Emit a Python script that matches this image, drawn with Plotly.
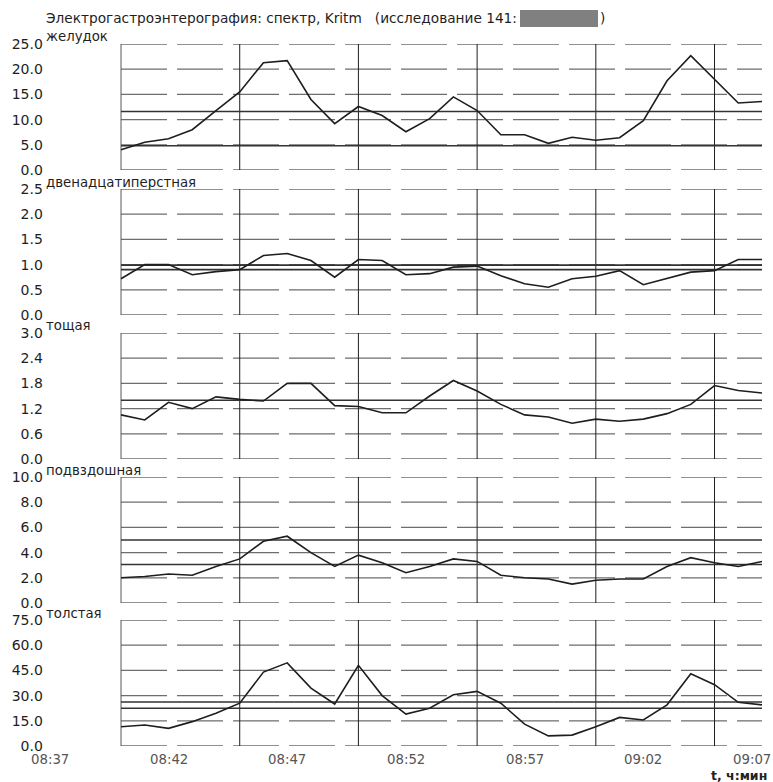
import plotly.graph_objects as go

W, H = 773, 782

# ---------------- data ----------------
times = ["08:40", "08:41", "08:42", "08:43", "08:44", "08:45", "08:46", "08:47",
         "08:48", "08:49", "08:50", "08:51", "08:52", "08:53", "08:54", "08:55",
         "08:56", "08:57", "08:58", "08:59", "09:00", "09:01", "09:02", "09:03",
         "09:04", "09:05", "09:06", "09:07"]

stomach = [4.0, 5.5, 6.2, 8.0, 11.8, 15.5, 21.3, 21.7, 14.0, 9.2, 12.6, 10.8, 7.6, 10.2,
           14.5, 11.8, 7.0, 7.0, 5.3, 6.5, 5.9, 6.4, 9.8, 17.7, 22.7, 18.0, 13.3, 13.6]
duodenum = [0.72, 1.0, 1.0, 0.8, 0.86, 0.9, 1.18, 1.22, 1.08, 0.75, 1.1, 1.08, 0.8, 0.82,
            0.95, 0.97, 0.78, 0.62, 0.55, 0.72, 0.77, 0.88, 0.6, 0.72, 0.85, 0.88, 1.1, 1.1]
jejunum = [1.05, 0.93, 1.35, 1.2, 1.48, 1.42, 1.38, 1.8, 1.8, 1.27, 1.25, 1.1, 1.1, 1.5,
           1.87, 1.62, 1.3, 1.05, 1.0, 0.85, 0.95, 0.9, 0.95, 1.08, 1.3, 1.75, 1.63, 1.57]
ileum = [2.0, 2.1, 2.3, 2.2, 2.9, 3.5, 4.9, 5.3, 4.0, 2.9, 3.8, 3.2, 2.4, 2.9,
         3.5, 3.3, 2.2, 2.0, 1.9, 1.5, 1.8, 1.9, 1.9, 2.9, 3.6, 3.2, 2.9, 3.3]
colon = [11.5, 12.5, 10.5, 14.5, 19.5, 25.5, 44.0, 49.5, 34.5, 25.0, 48.0, 30.0, 19.0, 22.5,
         30.5, 32.5, 25.5, 13.0, 6.0, 6.5, 11.5, 17.0, 15.5, 24.5, 43.0, 36.5, 26.0, 24.5]

# reference (norm) levels per section
stomach_ref = [11.6, 4.8]
duodenum_ref = [0.99, 0.90]
jejunum_ref = [1.40]
ileum_ref = [5.0, 3.05]
colon_ref = [26.2, 22.5]

names = ["желудок", "двенадцатиперстная", "тощая", "подвздошная", "толстая"]
series = [stomach, duodenum, jejunum, ileum, colon]
refs = [stomach_ref, duodenum_ref, jejunum_ref, ileum_ref, colon_ref]
y_max = [25.0, 2.5, 3.0, 10.0, 75.0]
y_step = [5.0, 0.5, 0.6, 2.0, 15.0]

x_tick_labels = ["08:37", "08:42", "08:47", "08:52", "08:57", "09:02", "09:07"]
v_lines = ["08:40", "08:45", "08:50", "08:55", "09:00", "09:05"]

title_text = "Электрогастроэнтерография: спектр, Kritm   (исследование 141: "
x_unit = "t, ч:мин"

# ---------------- layout geometry (pixels) ----------------
DAY = "2024-01-01 "
def T(s):
    return DAY + s + ":00"

x_left_px, x_right_px = 49.8, 762.0
panel_top = [44, 189, 333, 477, 620]
panel_h = 126

X = [T(t) for t in times]
x_start, x_end = T("08:37"), T("09:07")

FONT = "DejaVu Sans"
INK = "#1e1e1e"
GRID = "#6e6e6e"

fig = go.Figure()
shapes = []
annotations = []
layout = {}

for i in range(5):
    xn = "x" if i == 0 else f"x{i+1}"
    yn = "y" if i == 0 else f"y{i+1}"
    xk = "xaxis" if i == 0 else f"xaxis{i+1}"
    yk = "yaxis" if i == 0 else f"yaxis{i+1}"
    ymax = y_max[i]
    step = y_step[i]
    n = int(round(ymax / step))
    ticks = [round(k * step, 3) for k in range(n + 1)]

    # horizontal grid lines (dashed, like the scanned print)
    for tv in ticks:
        shapes.append(dict(type="line", xref=xn, yref=yn, x0=X[0], x1=X[-1], y0=tv, y1=tv,
                           line=dict(color=GRID, width=1.3, dash="46px,10px"), layer="below"))
    # vertical time lines
    for j, vt in enumerate(v_lines):
        shapes.append(dict(type="line", xref=xn, yref=yn, x0=T(vt), x1=T(vt), y0=0, y1=ymax,
                           line=dict(color="#555" if j == 0 else INK, width=1), layer="below"))

    # norm lines
    for rv in refs[i]:
        fig.add_trace(go.Scatter(x=[X[0], X[-1]], y=[rv, rv], mode="lines", xaxis=xn, yaxis=yn,
                                 line=dict(color="#333", width=1.6), hoverinfo="skip",
                                 showlegend=False))
    # spectrum curve
    fig.add_trace(go.Scatter(x=X, y=series[i], mode="lines", xaxis=xn, yaxis=yn,
                             line=dict(color=INK, width=1.6), name=names[i], showlegend=False))

    top = panel_top[i]
    bot = top + panel_h
    layout[xk] = dict(domain=[x_left_px / W, x_right_px / W], range=[x_start, x_end], type="date",
                      anchor=yn, showgrid=False, zeroline=False, showline=False,
                      showticklabels=False, ticks="", automargin=False)
    layout[yk] = dict(domain=[1 - bot / H, 1 - top / H], range=[0, ymax], tickvals=ticks,
                      tickformat=".1f", anchor=xn, showgrid=False, zeroline=False,
                      showline=False, ticks="", ticklabelstandoff=6, automargin=False,
                      tickfont=dict(family=FONT, size=14, color=INK))

    # section name
    annotations.append(dict(text=names[i], xref="paper", yref="paper", x=44 / W,
                            y=1 - (top - 7) / H, xanchor="left", yanchor="middle",
                            showarrow=False, font=dict(family=FONT, size=13.3, color=INK)))

# x tick labels for the bottom panel
for k, lab in enumerate(x_tick_labels):
    xa = "right" if k == len(x_tick_labels) - 1 else "center"
    annotations.append(dict(text=lab, xref="x5", yref="paper", x=T(lab), y=1 - 759 / H,
                            xanchor=xa, yanchor="middle", showarrow=False,
                            xshift=11 if xa == "right" else 0,
                            font=dict(family=FONT, size=13.3, color="#555")))

# axis unit
annotations.append(dict(text="<b>" + x_unit + "</b>", xref="paper", yref="paper", x=769 / W,
                        y=1 - 775 / H, xanchor="right", yanchor="middle", showarrow=False,
                        font=dict(family=FONT, size=12.5, color="#222")))

# title, redacted box, closing parenthesis
annotations.append(dict(text=title_text, xref="paper", yref="paper", x=44 / W, y=1 - 18 / H,
                        xanchor="left", yanchor="middle", showarrow=False,
                        font=dict(family=FONT, size=13.7, color=INK)))
shapes.append(dict(type="rect", xref="paper", yref="paper", x0=520 / W, x1=598 / W,
                   y0=1 - 27 / H, y1=1 - 10 / H, fillcolor="#808080", line=dict(width=0)))
annotations.append(dict(text=")", xref="paper", yref="paper", x=598 / W, y=1 - 18 / H,
                        xanchor="left", yanchor="middle", showarrow=False,
                        font=dict(family=FONT, size=13.7, color=INK)))

fig.update_layout(
    template="none",
    width=W, height=H,
    margin=dict(l=0, r=0, t=0, b=0, autoexpand=False),
    paper_bgcolor="white", plot_bgcolor="white",
    shapes=shapes, annotations=annotations,
    showlegend=False,
    **layout,
)

fig.write_html("out.html")
